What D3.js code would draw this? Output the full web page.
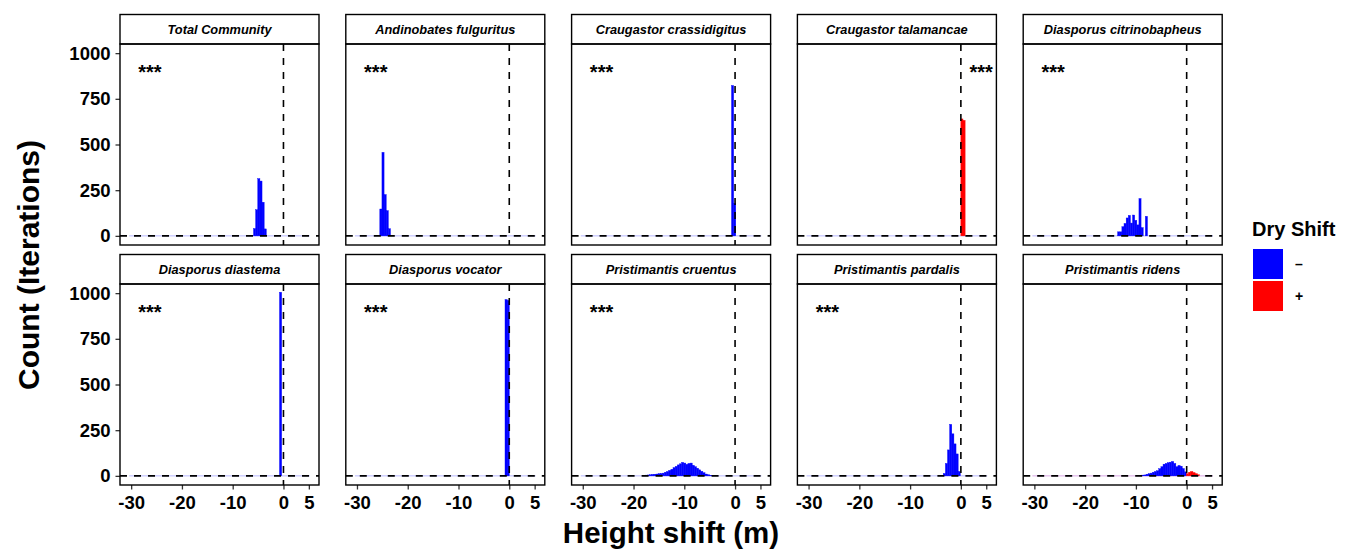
<!DOCTYPE html>
<html>
<head>
<meta charset="utf-8">
<script src="https://cdn.jsdelivr.net/npm/d3@7"></script>
<style>
body { margin: 0; background: #fff; }
text { font-family: "Liberation Sans", Arial, sans-serif; }
</style>
</head>
<body>
<script>
// facet order, left to right, top to bottom
var species = ["Total Community", "Andinobates fulguritus", "Craugastor crassidigitus",
  "Craugastor talamancae", "Diasporus citrinobapheus", "Diasporus diastema",
  "Diasporus vocator", "Pristimantis cruentus", "Pristimantis pardalis", "Pristimantis ridens"];

// significance label per panel and its x position (m)
var stars = ["***", "***", "***", "***", "***", "***", "***", "***", "***", ""];
var starX = [-26.3, -26.3, -26.3, 4.0, -26.3, -26.3, -26.3, -26.3, -26.3, 0];

// histogram: width of a bin, left edge of the first bin and counts per bin
var binWidth = 0.42;
var binStart = [-5.9, -25.5, -0.7, 0.0, -13.6, -0.78, -0.84, -18.1, -3.47, -8.85];
var binCounts = [
  [40, 143, 313, 300, 184, 38],
  [147, 457, 226, 138, 39],
  [823, 178],
  [640, 632],
  [22, 22, 50, 68, 98, 112, 70, 114, 85, 60, 204, 45, 0, 107],
  [1005],
  [965, 960],
  [3, 4, 5, 6, 8, 9, 10, 12, 13, 15, 20, 24, 30, 36, 45, 52, 60, 66, 74, 70, 63, 68, 70,
   58, 50, 42, 33, 25, 17, 10, 6, 3, 1],
  [13, 68, 142, 282, 230, 175, 120, 24],
  [4, 5, 9, 12, 15, 20, 24, 28, 39, 50, 64, 68, 72, 75, 79, 68, 50, 57, 53, 40, 22,
   12, 20, 24, 18, 12, 6]
];

// axes
var xTicks = [-30, -20, -10, 0, 5];
var yTicks = [0, 250, 500, 750, 1000];
var xDomain = [-32.2, 7.0];
var yDomain = [-50, 1050];

// legend
var legendTitle = "Dry Shift";
var legendLabels = ["\u2013", "+"];
var legendColors = ["#0000ff", "#ff0000"];

var W = 1352, H = 551;
var panelW = 199, bodyH = 201, stripH = 29.5;
var left0 = 120, colStep = 225.8;
var top0 = 14.5, rowStep = 240;

var svg = d3.select("body").append("svg")
    .attr("width", W)
    .attr("height", H);

var x = d3.scaleLinear().domain(xDomain).range([0, panelW]);
var y = d3.scaleLinear().domain(yDomain).range([bodyH, 0]);

function styleAxis(a) {
  a.select(".domain").remove();
  a.selectAll("line").attr("stroke", "#333").attr("stroke-width", 1.3);
  a.selectAll("text").attr("font-size", 18.5).attr("font-weight", "bold")
      .attr("fill", "#000").attr("font-family", "Liberation Sans, Arial, sans-serif");
}

species.forEach(function(name, k) {
  var col = k % 5, row = Math.floor(k / 5);
  var px = left0 + col * colStep;
  var py = top0 + row * rowStep;

  // strip
  var strip = svg.append("g").attr("transform", "translate(" + px + "," + py + ")");
  strip.append("rect")
      .attr("width", panelW).attr("height", stripH)
      .attr("fill", "#fff").attr("stroke", "#000").attr("stroke-width", 1.4);
  strip.append("text")
      .attr("x", panelW / 2).attr("y", stripH / 2 + 4.5)
      .attr("text-anchor", "middle")
      .attr("font-size", 12.8).attr("font-weight", "bold").attr("font-style", "italic")
      .text(name);

  var g = svg.append("g").attr("transform", "translate(" + px + "," + (py + stripH) + ")");

  // faint zero-height bins along the baseline
  g.append("line")
      .attr("x1", x(-30.4)).attr("x2", x(5.2))
      .attr("y1", y(0)).attr("y2", y(0))
      .attr("stroke", k == 9 ? "#d9a6e6" : "#b8b8ff").attr("stroke-width", 1);

  // bars
  var bins = binCounts[k].map(function(c, i) {
    return {x0: binStart[k] + i * binWidth, n: c};
  }).filter(function(d) { return d.n > 0; });

  g.selectAll("rect.bar")
      .data(bins)
    .enter().append("rect")
      .attr("class", "bar")
      .attr("x", function(d) { return x(d.x0); })
      .attr("width", x(binWidth) - x(0))
      .attr("y", function(d) { return y(d.n); })
      .attr("height", function(d) { return y(0) - y(d.n); })
      .attr("fill", function(d) {
        return d.x0 + binWidth / 2 > 0 ? legendColors[1] : legendColors[0];
      })
      .attr("stroke", function(d) {
        return d.x0 + binWidth / 2 > 0 ? legendColors[1] : legendColors[0];
      })
      .attr("stroke-width", 0.4);

  // dashed reference lines
  g.append("line")
      .attr("x1", 0).attr("x2", panelW)
      .attr("y1", y(0)).attr("y2", y(0))
      .attr("stroke", "#000").attr("stroke-width", 1.6).attr("stroke-dasharray", "7,7");
  g.append("line")
      .attr("x1", x(0)).attr("x2", x(0))
      .attr("y1", 0).attr("y2", bodyH)
      .attr("stroke", "#000").attr("stroke-width", 1.6).attr("stroke-dasharray", "7,7");

  if (stars[k]) {
    g.append("text")
        .attr("x", x(starX[k])).attr("y", y(900) + 8)
        .attr("text-anchor", "middle")
        .attr("font-size", 20).attr("font-weight", "bold")
        .text(stars[k]);
  }

  // y axis on first column
  if (col == 0) {
    g.append("g")
        .call(d3.axisLeft(y).tickValues(yTicks).tickSize(4.5).tickPadding(5)
          .tickFormat(d3.format("d")))
        .call(styleAxis);
  }
  // x axis on bottom row
  if (row == 1) {
    g.append("g")
        .attr("transform", "translate(0," + bodyH + ")")
        .call(d3.axisBottom(x).tickValues(xTicks).tickSize(4.5).tickPadding(6)
          .tickFormat(function(d) { return d < 0 ? "-" + (-d) : d; }))
        .call(styleAxis);
  }

  // panel border
  g.append("rect")
      .attr("width", panelW).attr("height", bodyH)
      .attr("fill", "none").attr("stroke", "#000").attr("stroke-width", 1.4);
});

// axis titles
svg.append("text")
    .attr("transform", "translate(39,265) rotate(-90)")
    .attr("text-anchor", "middle")
    .attr("font-size", 30).attr("font-weight", "bold")
    .text("Count (Iterations)");

svg.append("text")
    .attr("x", 671).attr("y", 543)
    .attr("text-anchor", "middle")
    .attr("font-size", 29.5).attr("font-weight", "bold")
    .text("Height shift (m)");

// legend
var lg = svg.append("g").attr("transform", "translate(1253,0)");
lg.append("text")
    .attr("x", -1).attr("y", 236)
    .attr("font-size", 20).attr("font-weight", "bold")
    .text(legendTitle);
legendColors.forEach(function(c, i) {
  lg.append("rect")
      .attr("x", 0).attr("y", 249 + i * 32)
      .attr("width", 30).attr("height", 30)
      .attr("fill", c);
  lg.append("text")
      .attr("x", 42).attr("y", 249 + i * 32 + 20)
      .attr("font-size", 14).attr("font-weight", "bold")
      .text(legendLabels[i]);
});
</script>
</body>
</html>
